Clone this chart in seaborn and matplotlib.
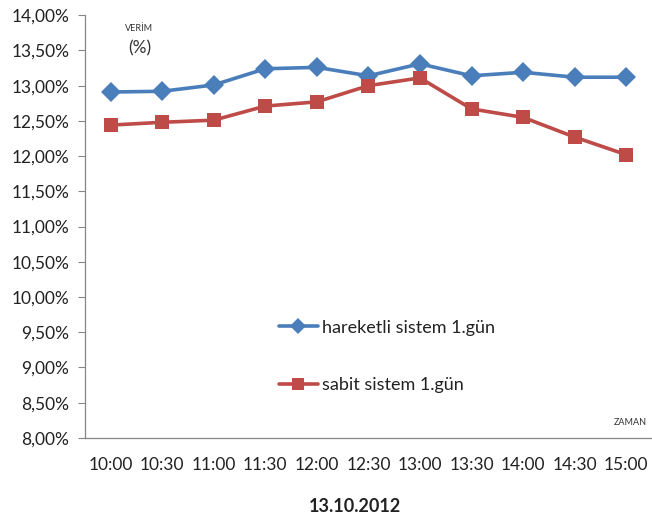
import matplotlib
matplotlib.use("Agg")
import matplotlib.pyplot as plt
from matplotlib.ticker import FuncFormatter, MultipleLocator
import seaborn as sns
import pandas as pd

times = ["10:00", "10:30", "11:00", "11:30", "12:00", "12:30",
         "13:00", "13:30", "14:00", "14:30", "15:00"]
hareketli = [12.91, 12.92, 13.01, 13.24, 13.26, 13.14, 13.31, 13.14, 13.19, 13.12, 13.12]
sabit = [12.44, 12.48, 12.51, 12.71, 12.77, 13.00, 13.11, 12.67, 12.55, 12.27, 12.02]
series_names = ["hareketli sistem 1.gün", "sabit sistem 1.gün"]

df = pd.DataFrame({
    "pos": list(range(len(times))) * 2,
    "verim": hareketli + sabit,
    "seri": [series_names[0]] * len(times) + [series_names[1]] * len(times),
})

sns.set_theme(style="white")
plt.rcParams["font.family"] = ["Lato", "DejaVu Sans"]

fig = plt.figure(figsize=(6.52, 5.25), dpi=100)
ax = fig.add_axes([0.130, 0.166, 0.870, 0.805])

sns.lineplot(data=df, x="pos", y="verim", hue="seri", style="seri",
             markers={series_names[0]: "D", series_names[1]: "s"},
             dashes=False, palette=["#4A7EBB", "#BE4B48"],
             linewidth=2.6, markersize=10, markeredgewidth=0,
             ax=ax, legend=True)

ax.set_ylim(8.0, 14.0)
ax.set_xlim(-0.5, 10.5)
ax.yaxis.set_major_locator(MultipleLocator(0.5))
ax.yaxis.set_major_formatter(FuncFormatter(lambda v, p: f"{v:.2f}%".replace(".", ",")))
ax.set_xticks(range(len(times)))
ax.set_xticklabels(times)
ax.tick_params(axis="y", which="major", direction="out", length=5, width=0.8,
               color="#868686", labelsize=12.5, pad=6, left=True)
ax.tick_params(axis="x", length=0, labelsize=12.5, pad=14)
for lab in ax.get_xticklabels() + ax.get_yticklabels():
    lab.set_color("#222222")

for side in ["top", "right"]:
    ax.spines[side].set_visible(False)
for side in ["left", "bottom"]:
    ax.spines[side].set_color("#868686")
    ax.spines[side].set_linewidth(0.9)

ax.set_xlabel("")
ax.set_ylabel("")

leg = ax.legend(loc="upper left", bbox_to_anchor=(0.313, 0.318), frameon=False,
                fontsize=13, labelspacing=2.3, handlelength=2.2, handletextpad=0.2,
                markerscale=0.8)
for t in leg.get_texts():
    t.set_color("#222222")

fig.text(0.214, 0.945, "VERİM", fontsize=6.5, ha="center", va="center", color="#333333")
fig.text(0.214, 0.908, "(%)", fontsize=12.5, ha="center", va="center", color="#333333")
fig.text(0.966, 0.196, "ZAMAN", fontsize=6.5, ha="center", va="center", color="#333333")
fig.text(0.545, 0.036, "13.10.2012", fontsize=13, fontweight="bold",
         ha="center", va="center", color="#222222")

fig.savefig("out.png", dpi=100)
